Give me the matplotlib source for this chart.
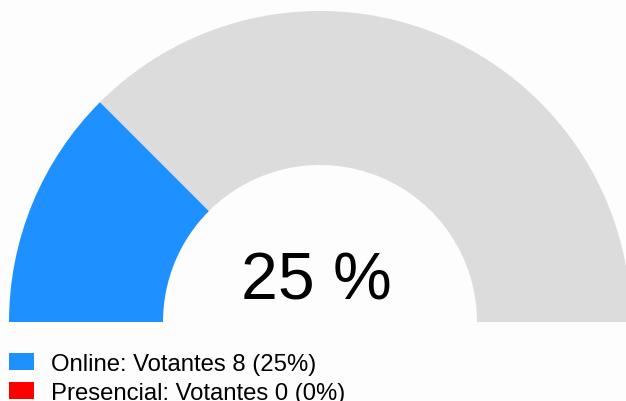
import matplotlib
matplotlib.use('Agg')
import matplotlib.pyplot as plt
from matplotlib.patches import Wedge, Patch

plt.rcParams['font.family'] = ['Liberation Sans', 'DejaVu Sans']

# datos del gráfico
labels = ['Online', 'Presencial']
votantes = [8, 0]
porcentajes = [25, 0]
colores = ['#1e90ff', '#ff0000']
total_pct = 25
color_fondo = '#dcdcdc'

# figura en coordenadas de píxel
fig = plt.figure(figsize=(6.26, 4.02), dpi=100, facecolor='#fdfdfd')
ax = fig.add_axes([0, 0, 1, 1])
ax.set_xlim(0, 626)
ax.set_ylim(402, 0)
ax.set_aspect('equal')
ax.axis('off')

cx, cy = 320, 323
r_ext, r_int = 311, 157

# semicírculo: de 180 a 0 grados (y invertido -> ángulos negativos)
ang_fin = 180 - 180 * total_pct / 100
ax.add_patch(Wedge((cx, cy), r_ext, -180, -ang_fin, width=r_ext - r_int,
                   facecolor=colores[0], edgecolor='none'))
ax.add_patch(Wedge((cx, cy), r_ext, -ang_fin, 0, width=r_ext - r_int,
                   facecolor=color_fondo, edgecolor='none'))

ax.text(cx - 4, 300, f'{total_pct} %', fontsize=47.5, ha='center',
        va='baseline', color='black')

handles = [Patch(facecolor=c, edgecolor='none') for c in colores]
textos = [f'{l}: Votantes {v} ({p}%)' for l, v, p in zip(labels, votantes, porcentajes)]
fig.legend(handles, textos, loc='upper left', bbox_to_anchor=(9 / 626, 1 - 354 / 402),
           frameon=False, fontsize=17.2, borderpad=0, borderaxespad=0,
           handlelength=1.05, handleheight=0.67, handletextpad=0.7,
           labelspacing=0.29)

fig.savefig('out.png', dpi=100, facecolor=fig.get_facecolor())
